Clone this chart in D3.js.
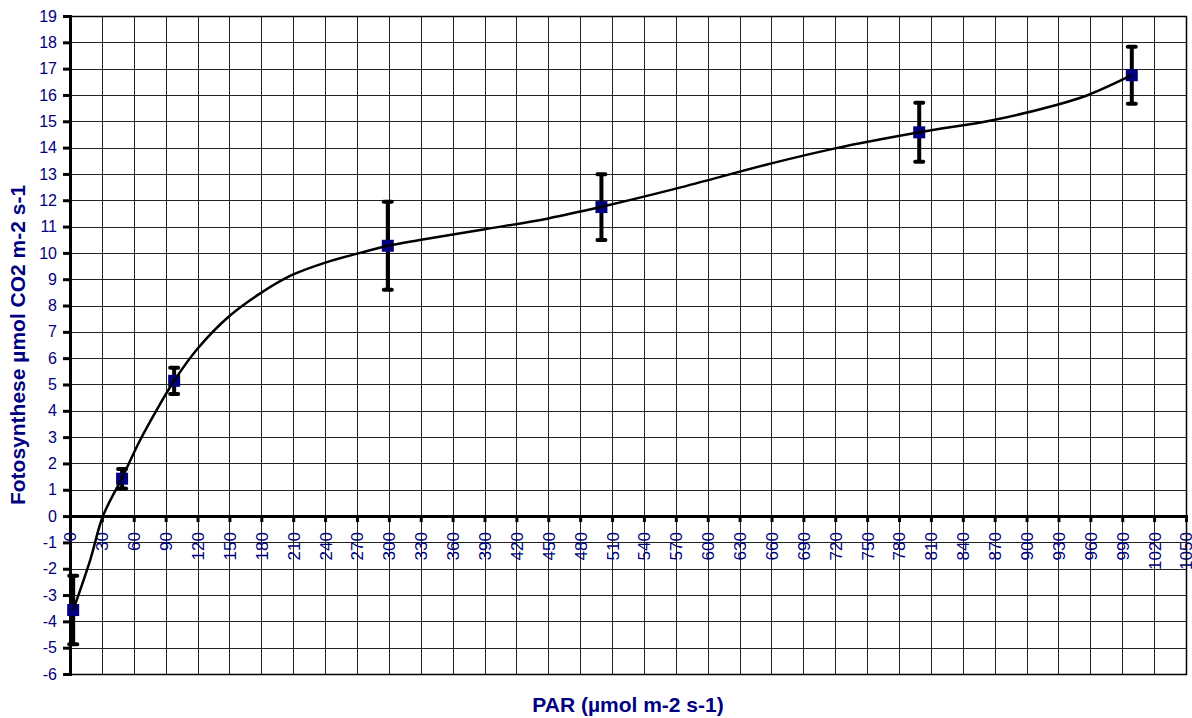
<!DOCTYPE html>
<html>
<head>
<meta charset="utf-8">
<script src="https://cdn.jsdelivr.net/npm/d3@7"></script>
<style>
  body { margin: 0; background: #fff; }
  svg { display: block; font-family: Arial, "Liberation Sans", sans-serif; }
</style>
</head>
<body>
<svg id="chart"></svg>
<script>
var width = 1192,
    height = 718;

// measured points (PAR, photosynthesis, error)
var parValues = [3, 49, 98, 299, 500, 799, 999];
var photoValues = [-3.57, 1.42, 5.14, 10.27, 11.74, 14.58, 16.75];
var errValues = [1.3, 0.37, 0.5, 1.67, 1.25, 1.12, 1.08];

// fitted curve
var curvePar = [3, 19, 31, 49, 66, 81.5, 98, 119, 150, 179, 209, 241, 273, 299, 329, 389, 450, 500, 571, 660, 720, 799, 869, 928, 958, 999];
var curveVal = [-3.57, -1.67, 0, 1.45, 2.89, 4.03, 5.14, 6.31, 7.6, 8.46, 9.16, 9.64, 10.0, 10.27, 10.49, 10.89, 11.31, 11.75, 12.45, 13.4, 13.97, 14.58, 15.05, 15.62, 16.0, 16.75];

var xTicks = d3.range(0, 1051, 30);
var yTicks = d3.range(-6, 20, 1);

var navy = "#000080";

var x = d3.scaleLinear().domain([0, 1050]).range([70, 1186]);
var y = d3.scaleLinear().domain([-6, 19]).range([674, 16]);

var svg = d3.select("#chart")
    .attr("width", width)
    .attr("height", height);

// grid
svg.append("g").selectAll("line")
    .data(xTicks.slice(1))
    .enter().append("line")
    .attr("x1", function (d) { return Math.round(x(d)) + 0.5; })
    .attr("x2", function (d) { return Math.round(x(d)) + 0.5; })
    .attr("y1", y(19))
    .attr("y2", y(-6))
    .attr("stroke", "#222")
    .attr("stroke-width", 1);

svg.append("g").selectAll("line")
    .data(yTicks)
    .enter().append("line")
    .attr("x1", x(0))
    .attr("x2", x(1050))
    .attr("y1", function (d) { return Math.round(y(d)) + 0.5; })
    .attr("y2", function (d) { return Math.round(y(d)) + 0.5; })
    .attr("stroke", "#222")
    .attr("stroke-width", 1);

// y axis
var yAxis = d3.axisLeft(y)
    .tickValues(yTicks)
    .tickSize(7)
    .tickPadding(6)
    .tickFormat(function (d) { return String(d); });

var gy = svg.append("g")
    .attr("transform", "translate(" + x(0) + ",0)")
    .call(yAxis);
gy.select(".domain").attr("stroke", "#000").attr("stroke-width", 3);
gy.selectAll(".tick line").attr("stroke", "#000").attr("stroke-width", 3);
gy.selectAll(".tick text")
    .attr("fill", navy)
    .style("font-size", "16px");

// x axis on zero line
var xAxis = d3.axisBottom(x)
    .tickValues(xTicks)
    .tickSize(6)
    .tickFormat(function (d) { return String(d); });

var gx = svg.append("g")
    .attr("transform", "translate(0," + y(0) + ")")
    .call(xAxis);
gx.select(".domain").attr("stroke", "#000").attr("stroke-width", 3);
gx.selectAll(".tick line").attr("stroke", "#000").attr("stroke-width", 3);
gx.selectAll(".tick text")
    .attr("fill", navy)
    .style("font-size", "17px")
    .attr("text-anchor", "end")
    .attr("dy", "0.35em")
    .attr("y", 0)
    .attr("transform", "translate(0,16) rotate(-90)");

// error bars
var pts = parValues.map(function (p, i) {
    return { x: p, y: photoValues[i], e: errValues[i] };
});

var bars = svg.append("g");
bars.selectAll("line.bar")
    .data(pts)
    .enter().append("line")
    .attr("class", "bar")
    .attr("x1", function (d) { return x(d.x); })
    .attr("x2", function (d) { return x(d.x); })
    .attr("y1", function (d) { return y(d.y + d.e); })
    .attr("y2", function (d) { return y(d.y - d.e); })
    .attr("stroke", "#000")
    .attr("stroke-width", 4);

[1, -1].forEach(function (s) {
    bars.selectAll("line.cap" + s)
        .data(pts)
        .enter().append("line")
        .attr("x1", function (d) { return x(d.x) - 4; })
        .attr("x2", function (d) { return x(d.x) + 4; })
        .attr("y1", function (d) { return y(d.y + s * d.e); })
        .attr("y2", function (d) { return y(d.y + s * d.e); })
        .attr("stroke", "#000")
        .attr("stroke-width", 4)
        .attr("stroke-linecap", "round");
});

// markers
svg.append("g").selectAll("rect")
    .data(pts)
    .enter().append("rect")
    .attr("x", function (d) { return x(d.x) - 6; })
    .attr("y", function (d) { return y(d.y) - 6; })
    .attr("width", 12)
    .attr("height", 12)
    .attr("fill", navy);

// curve
var curve = curvePar.map(function (p, i) { return [p, curveVal[i]]; });
var line = d3.line()
    .x(function (d) { return x(d[0]); })
    .y(function (d) { return y(d[1]); })
    .curve(d3.curveCatmullRom.alpha(0.5));

svg.append("path")
    .datum(curve)
    .attr("d", line)
    .attr("fill", "none")
    .attr("stroke", "#000")
    .attr("stroke-width", 2.5);

// frame top / right / bottom
svg.append("path")
    .attr("d", "M" + x(0) + "," + (y(19) + 0.5) + "H" + (x(1050) + 0.5) + "V" + (y(-6) + 0.5) + "H" + x(0))
    .attr("fill", "none")
    .attr("stroke", "#000")
    .attr("stroke-width", 1.5);

// titles
svg.append("text")
    .attr("x", 628)
    .attr("y", 712)
    .attr("text-anchor", "middle")
    .attr("fill", navy)
    .style("font-size", "21px")
    .style("font-weight", "bold")
    .text("PAR (µmol m-2 s-1)");

svg.append("text")
    .attr("transform", "translate(25,345) rotate(-90)")
    .attr("text-anchor", "middle")
    .attr("fill", navy)
    .style("font-size", "21px")
    .style("font-weight", "bold")
    .text("Fotosynthese µmol CO2 m-2 s-1");
</script>
</body>
</html>
